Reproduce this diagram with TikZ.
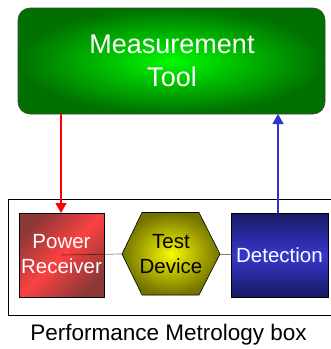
\documentclass[tikz,border=0pt]{standalone}
\usepackage{fontspec}
\setmainfont{Liberation Sans}
\usetikzlibrary{shapes.geometric,arrows.meta,patterns}
\definecolor{gdark}{RGB}{0,112,0}
\definecolor{glight}{RGB}{0,250,0}
\definecolor{rdark}{RGB}{140,50,50}
\definecolor{rlight}{RGB}{255,60,60}
\definecolor{bdark}{RGB}{25,25,100}
\definecolor{blight}{RGB}{55,55,205}
\definecolor{ydark}{RGB}{115,115,0}
\definecolor{ylight}{RGB}{250,250,0}
\definecolor{arrred}{RGB}{255,0,0}
\definecolor{arrblue}{RGB}{50,50,210}
\tikzset{
  toolbox/.style={rounded corners=12pt, draw=black!75, line width=0.6pt, inner color=glight, outer color=gdark},
  blockbox/.style={draw=black, line width=0.6pt},
  lbl/.style={font=\fontsize{20.5}{25}\selectfont, align=center},
  conn/.style={draw=black, opacity=0.5, line width=0.7pt},
  arr/.style={line width=1.5pt, -{Triangle[length=10pt,width=11pt]}}
}
\begin{document}
\begin{tikzpicture}[x=1pt,y=-1pt]
\useasboundingbox (0,0) rectangle (331,349);
\fill[white] (0,0) rectangle (331,349);
% outer box
\draw[black, line width=0.6pt] (335,199) -- (8,199) -- (8,315) -- (335,315);
% measurement tool
\path[toolbox] (18,8) rectangle (325,114);
\node[lbl, text=white, font=\fontsize{27}{33}\selectfont] (tool) at (172,61) {Measurement\\Tool};
\coordinate (toolL) at (61,114);
\coordinate (toolR) at (278,114);
% power receiver
\path[left color=rdark, right color=rdark, middle color=rlight, shading angle=45] (19,213) rectangle (104,297);
\path[pattern=north east lines, pattern color=black!20, opacity=0.12] (19,213) rectangle (104,297);
\draw[blockbox] (19,213) rectangle (104,297);
\node[lbl, text=white] (pr) at (61.5,254) {Power\\Receiver};
\coordinate (prc) at (61,255);
% detection
\path[top color=bdark, bottom color=bdark, middle color=blight] (231,213) rectangle (328,297);
\draw[blockbox] (231,213) rectangle (328,297);
\node[lbl, text=white] (det) at (279.5,255) {Detection};
% test device
\coordinate (hexW) at (122,254);
\coordinate (hexE) at (220,254);
\path[draw=black, line width=0.6pt, inner color=ylight, outer color=ydark]
  (hexW) -- (142,212.5) -- (199,212.5) -- (hexE) -- (199,295) -- (142,295) -- cycle;
\node[lbl, text=black] (td) at (171,254) {Test\\Device};
% connectors
\path[conn] (prc) -- (hexW);
\path[conn] (hexE) -- (231,254);
\draw[arr, arrred] (toolL) -- (61,213);
\draw[arr, arrblue] (278,213) -- (toolR);
% caption
\node[font=\fontsize{22.5}{27}\selectfont] (cap) at (168.5,335) {Performance Metrology box};
\end{tikzpicture}
\end{document}
